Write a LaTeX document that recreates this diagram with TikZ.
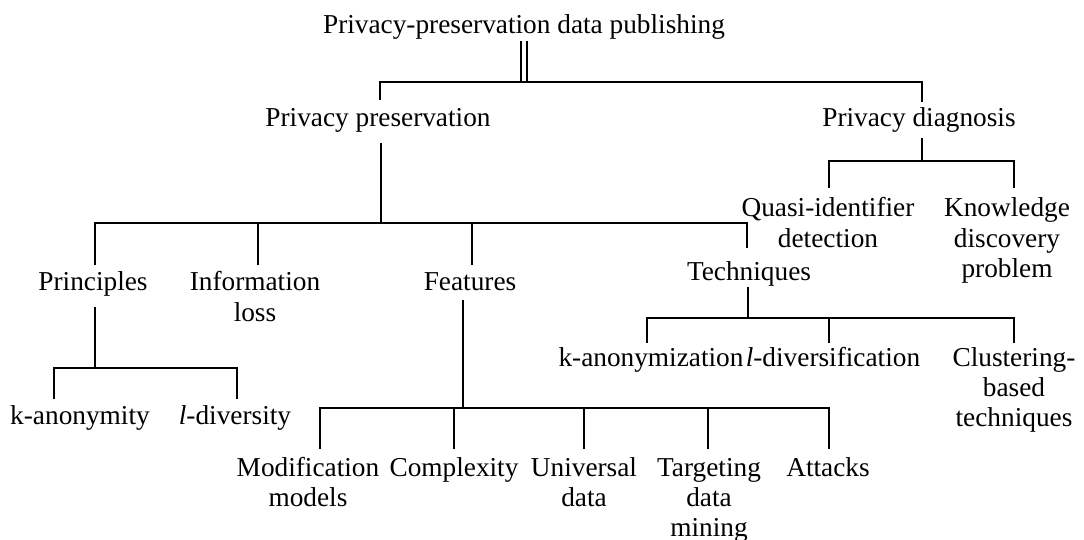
\documentclass[tikz,border=0pt]{standalone}
\usepackage{fontspec}
\setmainfont{Liberation Serif}
\begin{document}
\begin{tikzpicture}[x=0.5pt,y=-0.5pt,
  lbl/.style={inner sep=0pt, anchor=base, align=center,
    font=\fontsize{13.65pt}{15.25pt}\selectfont},
  wire/.style={line width=1pt, draw=black}]
\useasboundingbox (0,0) rectangle (1084,540);

% ---- labels (multi-line labels are placed by the baseline of their last line) ----
\node[lbl] (root) at (524,34) {Privacy-preservation data publishing};
\node[lbl] (pp) at (378,127) {Privacy preservation};
\node[lbl] (pd) at (919,127) {Privacy diagnosis};
\node[lbl] (qi) at (828,247.5) {Quasi-identifier\\detection};
\node[lbl] (kd) at (1007,278) {Knowledge\\discovery\\problem};
\node[lbl] (pr) at (93,291) {Principles};
\node[lbl] (il) at (255,321.5) {Information\\loss};
\node[lbl] (fe) at (470,291) {Features};
\node[lbl] (te) at (749,281) {Techniques};
\node[lbl] (kz) at (651,366) {k-anonymization};
\node[lbl,fill=white] (lf) at (833,366) {\textit{l}-diversification};
\node[lbl] (cb) at (1014,427) {Clustering-\\based\\techniques};
\node[lbl] (ka) at (80,424) {k-anonymity};
\node[lbl] (ld) at (235,424) {\textit{l}-diversity};
\node[lbl] (mm) at (308,506.5) {Modification\\models};
\node[lbl] (cx) at (454,476) {Complexity};
\node[lbl] (ud) at (584,506.5) {Universal\\data};
\node[lbl] (td) at (709,537) {Targeting\\data\\mining};
\node[lbl] (at) at (828,476) {Attacks};

% ---- attachment points above children ----
\coordinate (pp-t) at ([xshift=1pt,yshift=13.5pt]pp.base);
\coordinate (pd-t) at ([xshift=1.5pt,yshift=12.5pt]pd.base);
\coordinate (pr-t) at ([xshift=1pt,yshift=13pt]pr.base);
\coordinate (il-t) at ([xshift=1.5pt,yshift=28.25pt]il.base);
\coordinate (fe-t) at ([xshift=1pt,yshift=13pt]fe.base);
\coordinate (te-t) at ([xshift=-1pt,yshift=16.5pt]te.base);
\coordinate (qi-t) at ([xshift=0.5pt,yshift=29.75pt]qi.base);
\coordinate (kd-t) at ([xshift=3.5pt,yshift=45pt]kd.base);
\coordinate (ka-t) at ([xshift=-13pt,yshift=12.5pt]ka.base);
\coordinate (ld-t) at ([xshift=1pt,yshift=12.5pt]ld.base);
\coordinate (kz-t) at ([xshift=-2pt,yshift=11.5pt]kz.base);
\coordinate (lf-t) at ([xshift=-2pt,yshift=11.5pt]lf.base);
\coordinate (cb-t) at ([yshift=42pt]cb.base);
\coordinate (mm-t) at ([xshift=6pt,yshift=28.75pt]mm.base);
\coordinate (cx-t) at ([yshift=13.5pt]cx.base);
\coordinate (ud-t) at ([yshift=28.75pt]ud.base);
\coordinate (td-t) at ([xshift=-0.5pt,yshift=44pt]td.base);
\coordinate (at-t) at ([xshift=0.5pt,yshift=13.5pt]at.base);

% ---- attachment points below parents ----
\coordinate (root-b) at ([yshift=-3.5pt]root.base);
\coordinate (pp-b) at ([xshift=1.5pt,yshift=-8pt]pp.base);
\coordinate (pd-b) at ([xshift=1.5pt,yshift=-5.5pt]pd.base);
\coordinate (pr-b) at ([xshift=1pt,yshift=-8pt]pr.base);
\coordinate (fe-b) at ([xshift=-3.5pt,yshift=-4.5pt]fe.base);
\coordinate (te-b) at ([xshift=-0.5pt,yshift=-3pt]te.base);

% ---- bus junctions ----
\coordinate (j0) at (root-b |- 0,82);
\coordinate (j1) at (pp-b |- 0,223);
\coordinate (j2) at (pd-b |- 0,161);
\coordinate (j3) at (pr-b |- 0,368);
\coordinate (j4) at (fe-b |- 0,408);
\coordinate (j5) at (te-b |- 0,318);

% ---- connectors ----
\draw[wire, double, double distance=2pt] (root-b) -- (j0);
\draw[wire] (pp-t) |- (j0) -| (pd-t);

\draw[wire] (pp-b) -- (j1);
\draw[wire] (pr-t) |- (j1) -| (te-t);
\draw[wire] (il-t) -- (il-t |- j1);
\draw[wire] (fe-t) -- (fe-t |- j1);

\draw[wire] (pd-b) -- (j2);
\draw[wire] (qi-t) |- (j2) -| (kd-t);

\draw[wire] (pr-b) -- (j3);
\draw[wire] (ka-t) |- (j3) -| (ld-t);

\draw[wire] (fe-b) -- (j4);
\draw[wire] (mm-t) |- (j4) -| (at-t);
\draw[wire] (cx-t) -- (cx-t |- j4);
\draw[wire] (ud-t) -- (ud-t |- j4);
\draw[wire] (td-t) -- (td-t |- j4);

\draw[wire] (te-b) -- (j5);
\draw[wire] (kz-t) |- (j5) -| (cb-t);
\draw[wire] (lf-t) -- (lf-t |- j5);
\end{tikzpicture}
\end{document}
